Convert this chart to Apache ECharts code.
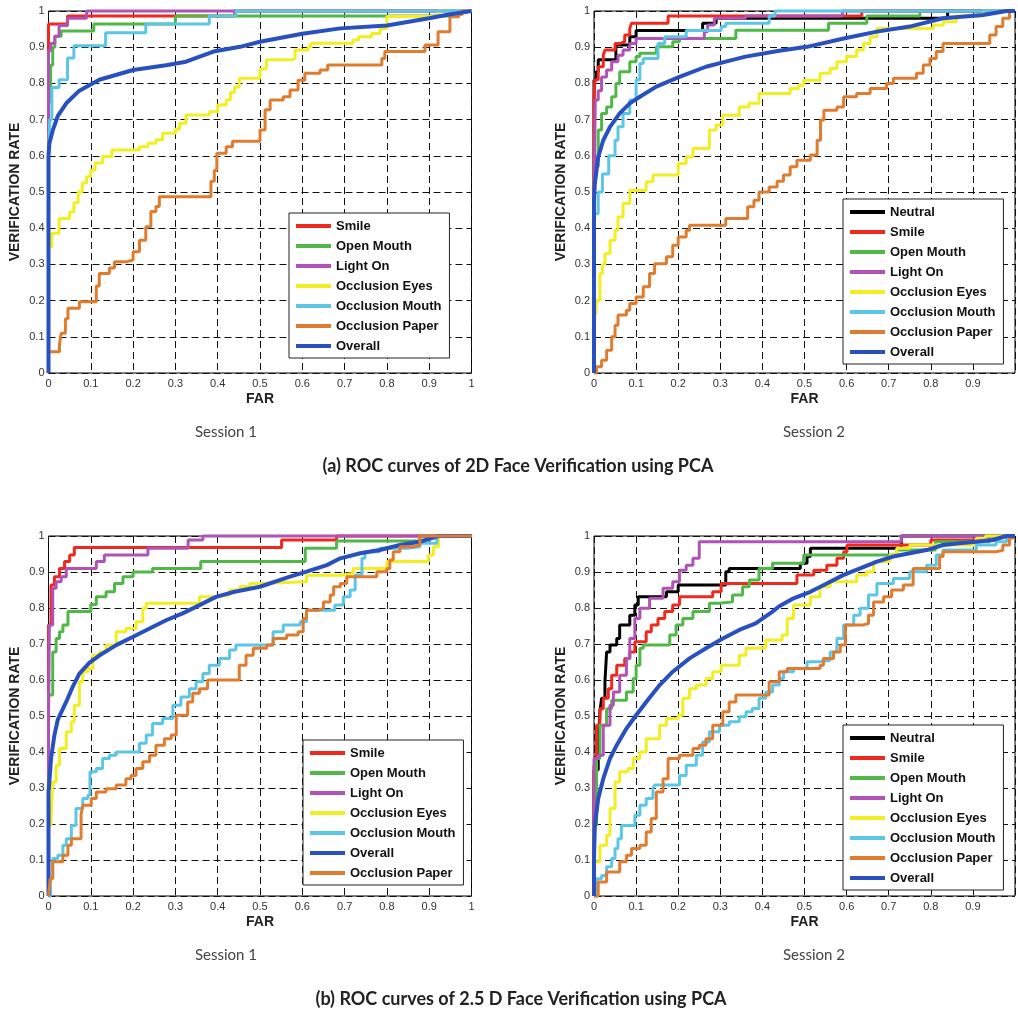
<!DOCTYPE html>
<html><head><meta charset="utf-8">
<script src="https://cdn.jsdelivr.net/npm/echarts@6/dist/echarts.min.js"></script>
<style>html,body{margin:0;padding:0;background:#fff}#c{width:1018px;height:1013px}</style>
</head><body><div id="c"></div>
<script>
// ---------- legend / category names ----------
const legendA = ['Smile','Open Mouth','Light On','Occlusion Eyes','Occlusion Mouth','Occlusion Paper','Overall'];
const legendB = ['Neutral','Smile','Open Mouth','Light On','Occlusion Eyes','Occlusion Mouth','Occlusion Paper','Overall'];
const legendC = ['Smile','Open Mouth','Light On','Occlusion Eyes','Occlusion Mouth','Overall','Occlusion Paper'];
const legendD = ['Neutral','Smile','Open Mouth','Light On','Occlusion Eyes','Occlusion Mouth','Occlusion Paper','Overall'];
const captionA = '(a) ROC curves of 2D Face Verification using PCA';
const captionB = '(b) ROC curves of 2.5 D Face Verification using PCA';
const sessionLabels = ['Session 1','Session 2'];

// ---------- (a) 2D, Session 1 : [FAR, verification rate] ----------
const a1_smile = [[0,0],[0,0.964],[0.045,0.986],[0.44,1],[1,1]];
const a1_open = [[0,0],[0,0.75],[0.005,0.85],[0.01,0.9],[0.015,0.93],[0.03,0.945],[0.107,0.964],[0.3,0.986],[0.95,1],[1,1]];
const a1_light = [[0,0],[0,0.89],[0.005,0.91],[0.015,0.93],[0.025,0.96],[0.045,0.98],[0.09,1],[1,1]];
const a1_eyes = [[0,0],[0,0.349],[0.008,0.386],[0.025,0.427],[0.05,0.445],[0.06,0.47],[0.07,0.5],[0.08,0.525],[0.09,0.542],[0.1,0.56],[0.11,0.58],[0.128,0.598],[0.15,0.616],[0.215,0.625],[0.235,0.635],[0.254,0.644],[0.27,0.662],[0.3,0.673],[0.31,0.69],[0.325,0.713],[0.38,0.722],[0.4,0.74],[0.42,0.754],[0.43,0.775],[0.44,0.79],[0.451,0.814],[0.5,0.84],[0.515,0.865],[0.575,0.869],[0.583,0.892],[0.614,0.901],[0.62,0.911],[0.72,0.92],[0.733,0.929],[0.764,0.938],[0.784,0.952],[0.8,0.985],[0.92,1],[1,1]];
const a1_mouth = [[0,0],[0,0.6],[0.003,0.7],[0.008,0.789],[0.025,0.81],[0.045,0.87],[0.06,0.904],[0.135,0.94],[0.23,0.964],[0.38,0.986],[0.443,1],[1,1]];
const a1_paper = [[0,0],[0,0.059],[0.026,0.08],[0.03,0.11],[0.04,0.15],[0.046,0.179],[0.073,0.197],[0.113,0.24],[0.12,0.275],[0.144,0.29],[0.156,0.307],[0.183,0.312],[0.2,0.335],[0.215,0.367],[0.23,0.404],[0.242,0.446],[0.254,0.46],[0.262,0.487],[0.384,0.53],[0.392,0.56],[0.398,0.607],[0.42,0.625],[0.435,0.64],[0.5,0.671],[0.512,0.727],[0.524,0.754],[0.555,0.763],[0.571,0.782],[0.59,0.809],[0.606,0.828],[0.642,0.837],[0.66,0.851],[0.788,0.869],[0.795,0.888],[0.89,0.906],[0.921,0.943],[0.949,0.984],[0.97,0.99],[0.978,1],[1,1]];
const a1_overall = [[0,0],[0,0.6],[0.002,0.634],[0.01,0.67],[0.022,0.71],[0.042,0.745],[0.073,0.78],[0.12,0.81],[0.2,0.837],[0.278,0.85],[0.325,0.86],[0.39,0.888],[0.453,0.901],[0.5,0.915],[0.6,0.937],[0.69,0.952],[0.8,0.96],[0.9,0.98],[0.94,0.989],[1,1]];

// ---------- (a) 2D, Session 2 ----------
const a2_neutral = [[0,0],[0,0.809],[0.005,0.832],[0.01,0.865],[0.052,0.906],[0.085,0.929],[0.1,0.946],[0.258,0.966],[0.29,0.98],[0.84,1],[1,1]];
const a2_smile = [[0,0],[0,0.754],[0.002,0.81],[0.01,0.846],[0.022,0.878],[0.026,0.892],[0.05,0.91],[0.061,0.915],[0.073,0.934],[0.085,0.952],[0.089,0.966],[0.176,0.986],[0.636,1],[1,1]];
const a2_open = [[0,0],[0,0.5],[0.003,0.57],[0.01,0.671],[0.018,0.717],[0.03,0.735],[0.042,0.763],[0.052,0.8],[0.061,0.832],[0.085,0.86],[0.1,0.874],[0.109,0.883],[0.148,0.901],[0.187,0.915],[0.203,0.924],[0.337,0.947],[0.557,0.966],[0.648,0.986],[0.774,1],[1,1]];
const a2_light = [[0,0],[0,0.477],[0.003,0.754],[0.01,0.78],[0.018,0.818],[0.03,0.837],[0.042,0.86],[0.057,0.878],[0.069,0.892],[0.085,0.91],[0.1,0.924],[0.262,0.943],[0.27,0.961],[0.286,0.98],[0.36,0.986],[0.59,1],[1,1]];
const a2_eyes = [[0,0],[0,0.164],[0.005,0.2],[0.014,0.275],[0.02,0.3],[0.026,0.33],[0.038,0.367],[0.05,0.394],[0.057,0.431],[0.069,0.468],[0.085,0.505],[0.124,0.528],[0.14,0.547],[0.2,0.579],[0.219,0.597],[0.235,0.62],[0.274,0.671],[0.29,0.685],[0.306,0.712],[0.345,0.735],[0.368,0.745],[0.392,0.772],[0.466,0.786],[0.486,0.795],[0.498,0.809],[0.537,0.828],[0.561,0.841],[0.577,0.86],[0.6,0.874],[0.624,0.892],[0.64,0.91],[0.656,0.929],[0.672,0.952],[0.806,0.961],[0.83,0.97],[0.861,0.986],[0.924,1],[1,1]];
const a2_mouth = [[0,0],[0,0.44],[0.01,0.5],[0.02,0.55],[0.035,0.6],[0.05,0.643],[0.057,0.68],[0.069,0.717],[0.085,0.754],[0.1,0.81],[0.109,0.855],[0.117,0.869],[0.152,0.91],[0.168,0.929],[0.219,0.946],[0.302,0.957],[0.313,0.966],[0.416,0.986],[0.43,1],[1,1]];
const a2_paper = [[0,0],[0.006,0.017],[0.018,0.035],[0.03,0.063],[0.042,0.1],[0.05,0.132],[0.057,0.16],[0.077,0.173],[0.085,0.192],[0.1,0.21],[0.117,0.238],[0.132,0.275],[0.144,0.302],[0.172,0.321],[0.187,0.353],[0.2,0.376],[0.219,0.394],[0.227,0.408],[0.313,0.427],[0.365,0.459],[0.38,0.477],[0.392,0.5],[0.416,0.514],[0.435,0.53],[0.45,0.547],[0.466,0.57],[0.482,0.588],[0.514,0.602],[0.53,0.643],[0.538,0.699],[0.546,0.726],[0.577,0.735],[0.593,0.763],[0.624,0.772],[0.656,0.786],[0.695,0.8],[0.711,0.814],[0.766,0.828],[0.782,0.851],[0.798,0.869],[0.813,0.888],[0.829,0.91],[0.94,0.934],[0.955,0.957],[0.971,0.98],[0.987,1],[1,1]];
const a2_overall = [[0,0],[0,0.477],[0.002,0.523],[0.01,0.597],[0.022,0.643],[0.038,0.68],[0.061,0.717],[0.085,0.745],[0.109,0.763],[0.148,0.791],[0.203,0.818],[0.266,0.846],[0.313,0.86],[0.36,0.874],[0.44,0.89],[0.506,0.901],[0.593,0.924],[0.672,0.943],[0.75,0.957],[0.829,0.98],[0.924,0.989],[0.98,1],[1,1]];

// ---------- (b) 2.5D, Session 1 ----------
const b1_smile = [[0,0],[0,0.753],[0.006,0.864],[0.014,0.887],[0.026,0.91],[0.038,0.929],[0.05,0.947],[0.061,0.968],[0.551,0.989],[0.681,1],[1,1]];
const b1_open = [[0,0],[0,0.558],[0.01,0.678],[0.018,0.715],[0.026,0.734],[0.034,0.753],[0.046,0.79],[0.1,0.81],[0.113,0.831],[0.136,0.845],[0.156,0.868],[0.176,0.887],[0.2,0.9],[0.246,0.91],[0.36,0.929],[0.607,0.966],[0.681,0.986],[0.878,1],[1,1]];
const b1_light = [[0,0],[0,0.474],[0.002,0.753],[0.01,0.855],[0.018,0.873],[0.03,0.887],[0.042,0.91],[0.113,0.929],[0.132,0.947],[0.235,0.966],[0.33,0.989],[0.365,1],[1,1]];
const b1_eyes = [[0,0],[0,0.196],[0.006,0.215],[0.01,0.317],[0.018,0.363],[0.026,0.41],[0.042,0.456],[0.054,0.484],[0.061,0.53],[0.073,0.595],[0.081,0.623],[0.093,0.632],[0.105,0.669],[0.12,0.678],[0.136,0.697],[0.16,0.734],[0.183,0.743],[0.207,0.762],[0.223,0.799],[0.231,0.813],[0.357,0.831],[0.396,0.836],[0.428,0.85],[0.453,0.86],[0.476,0.868],[0.5,0.873],[0.61,0.891],[0.69,0.896],[0.72,0.91],[0.8,0.929],[0.898,0.947],[0.91,0.97],[0.922,1],[1,1]];
const b1_mouth = [[0,0],[0.005,0.05],[0.01,0.104],[0.022,0.113],[0.034,0.141],[0.042,0.159],[0.054,0.196],[0.065,0.243],[0.081,0.271],[0.093,0.28],[0.098,0.345],[0.113,0.354],[0.128,0.382],[0.144,0.391],[0.16,0.4],[0.215,0.424],[0.231,0.447],[0.246,0.479],[0.27,0.493],[0.294,0.53],[0.313,0.553],[0.333,0.576],[0.349,0.595],[0.365,0.618],[0.38,0.641],[0.404,0.66],[0.428,0.683],[0.443,0.697],[0.531,0.734],[0.555,0.753],[0.595,0.762],[0.61,0.794],[0.677,0.808],[0.697,0.831],[0.713,0.85],[0.725,0.892],[0.741,0.938],[0.748,0.956],[0.783,0.966],[0.847,0.97],[0.878,0.98],[0.918,1],[1,1]];
const b1_overall = [[0,0],[0,0.289],[0.002,0.317],[0.006,0.382],[0.014,0.447],[0.022,0.49],[0.032,0.515],[0.044,0.545],[0.056,0.578],[0.073,0.618],[0.097,0.648],[0.12,0.668],[0.16,0.697],[0.2,0.72],[0.239,0.743],[0.278,0.766],[0.317,0.785],[0.357,0.808],[0.396,0.831],[0.44,0.845],[0.5,0.859],[0.571,0.887],[0.61,0.901],[0.658,0.919],[0.69,0.938],[0.737,0.952],[0.783,0.961],[0.831,0.975],[0.878,0.984],[0.922,1],[1,1]];
const b1_paper = [[0,0],[0.004,0.048],[0.01,0.095],[0.034,0.113],[0.046,0.141],[0.054,0.159],[0.077,0.224],[0.081,0.252],[0.101,0.271],[0.113,0.289],[0.136,0.298],[0.16,0.308],[0.183,0.326],[0.195,0.335],[0.207,0.354],[0.223,0.373],[0.239,0.391],[0.254,0.419],[0.274,0.437],[0.29,0.447],[0.302,0.502],[0.329,0.539],[0.341,0.563],[0.357,0.576],[0.376,0.6],[0.451,0.641],[0.467,0.669],[0.484,0.688],[0.516,0.697],[0.531,0.715],[0.563,0.725],[0.59,0.734],[0.602,0.771],[0.61,0.794],[0.638,0.799],[0.65,0.817],[0.666,0.836],[0.674,0.859],[0.69,0.868],[0.705,0.887],[0.776,0.901],[0.8,0.91],[0.807,0.933],[0.815,0.956],[0.831,0.97],[0.863,0.975],[0.878,1],[1,1]];

// ---------- (b) 2.5D, Session 2 ----------
const b2_neutral = [[0,0],[0,0.35],[0.01,0.391],[0.014,0.512],[0.018,0.549],[0.026,0.595],[0.03,0.678],[0.038,0.697],[0.054,0.715],[0.061,0.753],[0.085,0.78],[0.097,0.808],[0.105,0.831],[0.172,0.845],[0.2,0.864],[0.313,0.901],[0.321,0.91],[0.49,0.924],[0.506,0.943],[0.514,0.966],[0.73,1],[1,1]];
const b2_smile = [[0,0],[0,0.363],[0.006,0.474],[0.014,0.52],[0.022,0.549],[0.034,0.576],[0.042,0.613],[0.054,0.641],[0.073,0.66],[0.085,0.678],[0.097,0.706],[0.124,0.734],[0.136,0.753],[0.152,0.771],[0.168,0.79],[0.187,0.808],[0.203,0.831],[0.282,0.845],[0.302,0.868],[0.482,0.892],[0.522,0.905],[0.553,0.919],[0.577,0.938],[0.593,0.956],[0.601,0.975],[0.8,0.989],[0.955,1],[1,1]];
const b2_open = [[0,0],[0,0.196],[0.006,0.382],[0.014,0.474],[0.03,0.52],[0.042,0.544],[0.077,0.567],[0.093,0.604],[0.1,0.641],[0.109,0.688],[0.117,0.697],[0.18,0.725],[0.195,0.753],[0.211,0.771],[0.235,0.79],[0.274,0.813],[0.298,0.817],[0.329,0.836],[0.353,0.859],[0.369,0.878],[0.392,0.91],[0.424,0.924],[0.498,0.947],[0.719,0.961],[0.811,0.984],[0.94,1],[1,1]];
const b2_light = [[0,0],[0,0.382],[0.01,0.391],[0.022,0.474],[0.038,0.53],[0.046,0.567],[0.061,0.613],[0.077,0.66],[0.085,0.715],[0.097,0.771],[0.109,0.799],[0.132,0.827],[0.164,0.855],[0.187,0.873],[0.203,0.905],[0.219,0.919],[0.235,0.938],[0.25,0.984],[0.73,1],[1,1]];
const b2_eyes = [[0,0],[0,0.095],[0.014,0.141],[0.03,0.169],[0.038,0.243],[0.05,0.317],[0.061,0.345],[0.081,0.354],[0.093,0.382],[0.109,0.4],[0.124,0.437],[0.156,0.474],[0.172,0.493],[0.2,0.502],[0.211,0.549],[0.227,0.576],[0.243,0.586],[0.266,0.604],[0.282,0.623],[0.302,0.641],[0.345,0.669],[0.361,0.688],[0.408,0.711],[0.447,0.725],[0.459,0.771],[0.474,0.808],[0.514,0.831],[0.537,0.859],[0.561,0.873],[0.624,0.892],[0.648,0.901],[0.664,0.929],[0.703,0.947],[0.719,0.966],[0.75,0.975],[0.908,0.994],[0.93,1],[1,1]];
const b2_mouth = [[0,0],[0.006,0.048],[0.018,0.057],[0.03,0.081],[0.042,0.104],[0.05,0.132],[0.057,0.159],[0.065,0.196],[0.097,0.224],[0.109,0.252],[0.124,0.271],[0.14,0.298],[0.144,0.308],[0.203,0.335],[0.219,0.363],[0.243,0.391],[0.258,0.428],[0.274,0.456],[0.298,0.474],[0.321,0.484],[0.345,0.498],[0.361,0.512],[0.376,0.521],[0.392,0.549],[0.408,0.567],[0.424,0.586],[0.44,0.604],[0.45,0.623],[0.474,0.632],[0.506,0.651],[0.537,0.655],[0.561,0.678],[0.577,0.715],[0.593,0.753],[0.617,0.78],[0.632,0.799],[0.652,0.836],[0.672,0.868],[0.711,0.882],[0.75,0.901],[0.79,0.919],[0.813,0.947],[0.829,0.961],[0.908,0.975],[0.955,0.984],[0.98,1],[1,1]];
const b2_paper = [[0,0],[0.01,0.039],[0.03,0.067],[0.061,0.095],[0.077,0.113],[0.089,0.132],[0.109,0.141],[0.124,0.178],[0.136,0.215],[0.148,0.289],[0.164,0.326],[0.176,0.382],[0.203,0.391],[0.235,0.41],[0.25,0.419],[0.266,0.437],[0.282,0.474],[0.306,0.512],[0.321,0.539],[0.337,0.558],[0.416,0.595],[0.44,0.623],[0.459,0.632],[0.537,0.641],[0.545,0.66],[0.569,0.678],[0.585,0.697],[0.597,0.753],[0.64,0.757],[0.652,0.78],[0.664,0.817],[0.688,0.831],[0.707,0.85],[0.735,0.864],[0.758,0.91],[0.821,0.943],[0.829,0.956],[0.955,0.96],[0.971,0.975],[0.987,0.994],[0.995,1],[1,1]];
const b2_overall = [[0,0],[0,0.104],[0.002,0.196],[0.01,0.271],[0.022,0.326],[0.038,0.382],[0.054,0.419],[0.077,0.465],[0.1,0.502],[0.124,0.539],[0.156,0.586],[0.187,0.623],[0.227,0.66],[0.266,0.688],[0.306,0.715],[0.345,0.739],[0.384,0.757],[0.424,0.79],[0.44,0.805],[0.474,0.827],[0.514,0.845],[0.553,0.868],[0.593,0.892],[0.632,0.91],[0.672,0.929],[0.711,0.943],[0.75,0.952],[0.79,0.961],[0.829,0.975],[0.868,0.98],[0.908,0.984],[0.947,0.989],[0.98,1],[1,1]];

// ---------- styling ----------
const COLORS = {
  'Neutral':'#000000','Smile':'#f0281e','Open Mouth':'#4fb847','Light On':'#b052b6',
  'Occlusion Eyes':'#f2ee22','Occlusion Mouth':'#5cc6e6','Occlusion Paper':'#e07c30','Overall':'#2850c0'
};
const GRIDS = [
  {left:48.5, top:11, width:423, height:362},
  {left:594, top:11, width:423, height:362},
  {left:48.5, top:536, width:423, height:360},
  {left:594, top:536, width:423, height:360}
];
const panelSeries = [
  [['Smile',a1_smile],['Open Mouth',a1_open],['Light On',a1_light],['Occlusion Eyes',a1_eyes],['Occlusion Mouth',a1_mouth],['Occlusion Paper',a1_paper],['Overall',a1_overall]],
  [['Neutral',a2_neutral],['Smile',a2_smile],['Open Mouth',a2_open],['Light On',a2_light],['Occlusion Eyes',a2_eyes],['Occlusion Mouth',a2_mouth],['Occlusion Paper',a2_paper],['Overall',a2_overall]],
  [['Smile',b1_smile],['Open Mouth',b1_open],['Light On',b1_light],['Occlusion Eyes',b1_eyes],['Occlusion Mouth',b1_mouth],['Overall',b1_overall],['Occlusion Paper',b1_paper]],
  [['Neutral',b2_neutral],['Smile',b2_smile],['Open Mouth',b2_open],['Light On',b2_light],['Occlusion Eyes',b2_eyes],['Occlusion Mouth',b2_mouth],['Occlusion Paper',b2_paper],['Overall',b2_overall]]
];
const FONT = 'Liberation Sans, Arial, sans-serif';
const split = {show:true, lineStyle:{color:'#111', type:[7,4], width:1}};

const xAxes = GRIDS.map((g,i)=>({
  type:'value', gridIndex:i, min:0, max:1, interval:0.1,
  name:'FAR', nameLocation:'middle', nameGap:19,
  nameTextStyle:{fontFamily:FONT, fontWeight:'bold', fontSize:14, color:'#222'},
  axisLine:{show:false}, axisTick:{show:false},
  axisLabel:{fontFamily:FONT, fontSize:11, color:'#333', margin:5,
    formatter: (i%2===1) ? (v=>v>0.999?'':String(+v.toFixed(1))) : (v=>String(+v.toFixed(1)))},
  splitLine:split
}));
const yAxes = GRIDS.map((g,i)=>({
  type:'value', gridIndex:i, min:0, max:1, interval:0.1,
  name:'VERIFICATION RATE', nameLocation:'middle', nameGap:26,
  nameTextStyle:{fontFamily:FONT, fontWeight:'bold', fontSize:14, color:'#222'},
  axisLine:{show:false}, axisTick:{show:false},
  axisLabel:{fontFamily:FONT, fontSize:11, color:'#333', margin:4,
    formatter: v=>String(+v.toFixed(1))},
  splitLine:split
}));

const series = [];
panelSeries.forEach((list,gi)=>{
  list.forEach(([name,data])=>{
    series.push({
      type:'line', name, xAxisIndex:gi, yAxisIndex:gi, data,
      step: name==='Overall' ? false : 'end',
      showSymbol:false, symbol:'none', clip:false, silent:true,
      lineStyle:{color:COLORS[name], width: name==='Overall' ? 4 : 3},
      itemStyle:{color:COLORS[name]}
    });
  });
});

function mkLegend(data, left, top){
  return {
    data, left, top, orient:'vertical', icon:'rect', itemWidth:35, itemHeight:4,
    itemGap:6, selectedMode:false, backgroundColor:'#fff', borderColor:'#222', borderWidth:1,
    padding:[6,8,5,7],
    textStyle:{fontFamily:FONT, fontWeight:'bold', fontSize:13, color:'#111', lineHeight:14}
  };
}

const chart = echarts.init(document.getElementById('c'), null, {renderer:'canvas'});
chart.setOption({
  animation:false,
  backgroundColor:'#fff',
  grid: GRIDS.map(g=>Object.assign({show:true, borderColor:'#000', borderWidth:1, backgroundColor:'transparent'}, g)),
  xAxis:xAxes, yAxis:yAxes,
  legend:[mkLegend(legendA,289,213), mkLegend(legendB,843,199), mkLegend(legendC,303,740), mkLegend(legendD,843,725)],
  series,
  graphic:[
    {type:'text', x:226, y:432, style:{text:sessionLabels[0], fontFamily:'Lato, sans-serif', fontSize:15, fill:'#444', align:'center', verticalAlign:'middle'}},
    {type:'text', x:814, y:432, style:{text:sessionLabels[1], fontFamily:'Lato, sans-serif', fontSize:15, fill:'#444', align:'center', verticalAlign:'middle'}},
    {type:'text', x:518, y:466, style:{text:captionA, fontFamily:'Lato, sans-serif', fontWeight:'bold', fontSize:18, fill:'#222', align:'center', verticalAlign:'middle'}},
    {type:'text', x:226, y:955, style:{text:sessionLabels[0], fontFamily:'Lato, sans-serif', fontSize:15, fill:'#444', align:'center', verticalAlign:'middle'}},
    {type:'text', x:814, y:955, style:{text:sessionLabels[1], fontFamily:'Lato, sans-serif', fontSize:15, fill:'#444', align:'center', verticalAlign:'middle'}},
    {type:'text', x:521, y:999, style:{text:captionB, fontFamily:'Lato, sans-serif', fontWeight:'bold', fontSize:18, fill:'#222', align:'center', verticalAlign:'middle'}}
  ]
});
</script></body></html>
